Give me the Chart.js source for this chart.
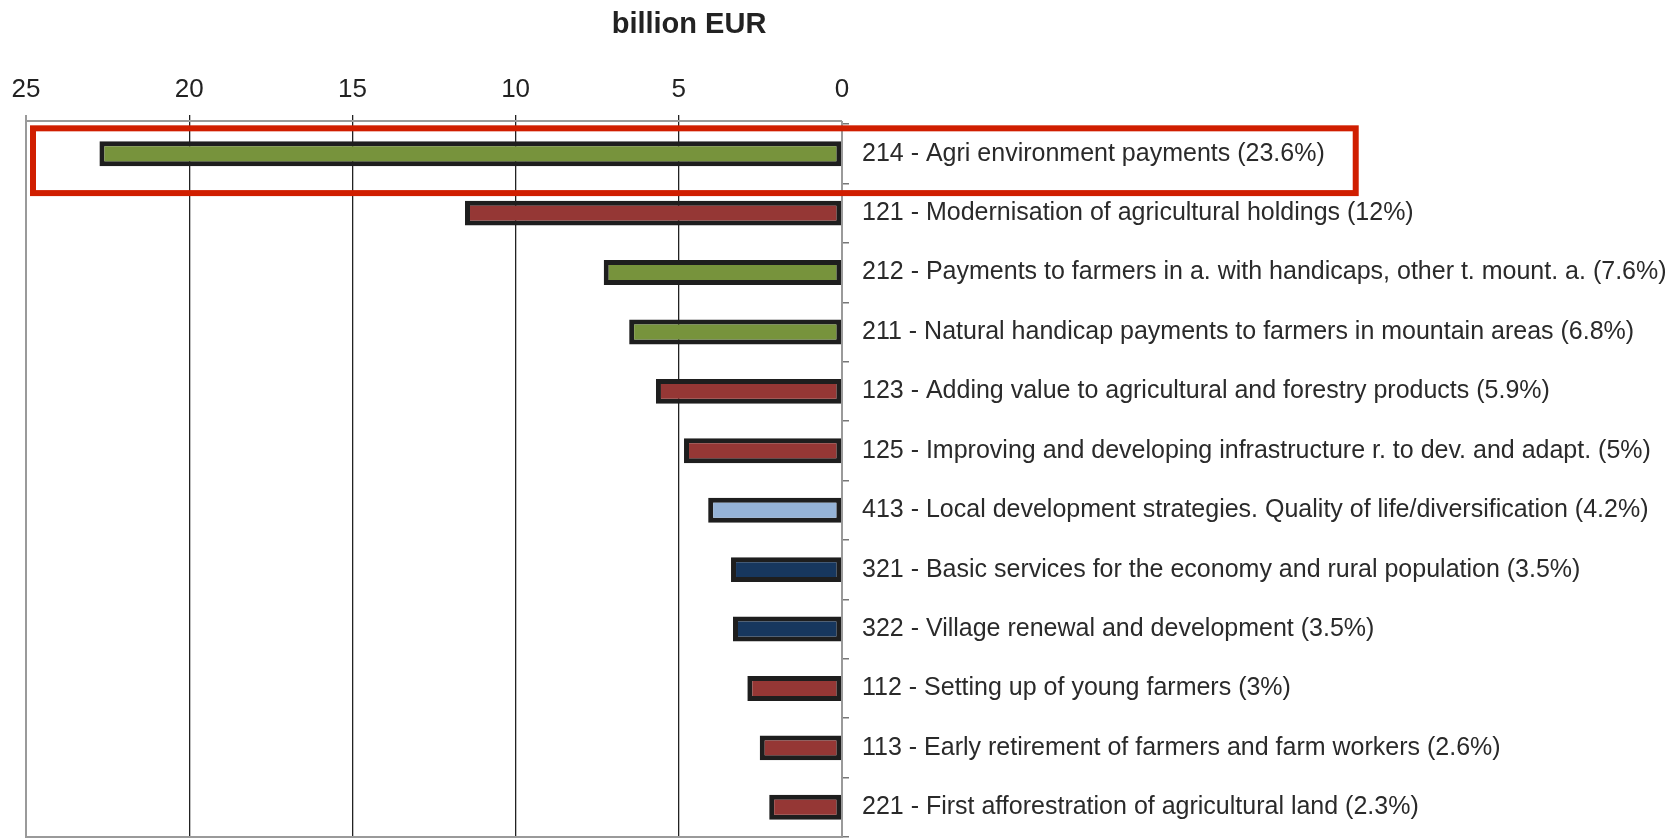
<!DOCTYPE html>
<html>
<head>
<meta charset="utf-8">
<script src="https://cdn.jsdelivr.net/npm/chart.js@4/dist/chart.umd.min.js"></script>
<style>
  html, body { margin: 0; padding: 0; background: #fff; }
  #wrap { width: 1674px; height: 838px; position: relative; }
</style>
</head>
<body>
<div id="wrap"><canvas id="chart" width="1674" height="838"></canvas></div>
<script>
const titleText = "billion EUR";
const codes = ["214", "121", "212", "211", "123", "125", "413", "321", "322", "112", "113", "221"];
const names = [
    "Agri environment payments",
    "Modernisation of agricultural holdings",
    "Payments to farmers in a. with handicaps, other t. mount. a.",
    "Natural handicap payments to farmers in mountain areas",
    "Adding value to agricultural and forestry products",
    "Improving and developing infrastructure r. to dev. and adapt.",
    "Local development strategies. Quality of life/diversification",
    "Basic services for the economy and rural population",
    "Village renewal and development",
    "Setting up of young farmers",
    "Early retirement of farmers and farm workers",
    "First afforestration of agricultural land"
];
const shares = ["23.6%", "12%", "7.6%", "6.8%", "5.9%", "5%", "4.2%", "3.5%", "3.5%", "3%", "2.6%", "2.3%"];
const values = [22.75, 11.55, 7.3, 6.52, 5.7, 4.84, 4.1, 3.4, 3.34, 2.9, 2.52, 2.23];
const groups = ["green", "red", "green", "green", "red", "red", "light", "navy", "navy", "red", "red", "red"];
const xTicks = [0, 5, 10, 15, 20, 25];

const palette = { green: "#77933c", red: "#953735", light: "#95b3d7", navy: "#17375e" };
const labels = codes.map((c, i) => c + " - " + names[i] + " (" + shares[i] + ")");
const fontFamily = "'Liberation Sans', Arial, sans-serif";

// frame, title and the red highlight box round the first row
const extras = {
    id: "extras",
    afterDraw(chart) {
        const ctx = chart.ctx;
        const area = chart.chartArea;
        const y = chart.scales.y;
        const top = area.top - 3;
        ctx.save();
        ctx.strokeStyle = "#9a9a9a";
        ctx.lineWidth = 2;
        ctx.beginPath();
        ctx.moveTo(area.right, top);
        ctx.lineTo(area.left, top);
        ctx.lineTo(area.left, area.bottom);
        ctx.lineTo(area.right, area.bottom);
        ctx.lineTo(area.right, top);
        ctx.stroke();

        ctx.fillStyle = "#222";
        ctx.font = "bold 29px " + fontFamily;
        ctx.textAlign = "center";
        ctx.textBaseline = "middle";
        ctx.fillText(titleText, 689, 25);

        ctx.font = y.options.ticks.font.size + "px " + fontFamily;
        const w = ctx.measureText(labels[0]).width;
        const band = y.getPixelForValue(1) - y.getPixelForValue(0);
        const cy = y.getPixelForValue(0) + 7;
        const left = area.left + 7;
        const right = area.right + 21 + w + 30;
        ctx.strokeStyle = "#d01e00";
        ctx.lineWidth = 6;
        ctx.strokeRect(left, cy - band * 0.545, right - left, band * 1.09);
        ctx.restore();
    }
};

new Chart(document.getElementById("chart"), {
    type: "bar",
    data: {
        labels: labels,
        datasets: [{
            data: values,
            backgroundColor: groups.map(g => palette[g]),
            borderColor: "#1e1e1e",
            borderWidth: 5,
            borderSkipped: false,
            barPercentage: 0.42,
            categoryPercentage: 1
        }]
    },
    options: {
        indexAxis: "y",
        responsive: false,
        animation: false,
        layout: { padding: { left: 26, right: 0, top: 0, bottom: 1 } },
        plugins: {
            legend: { display: false },
            tooltip: { enabled: false }
        },
        scales: {
            x: {
                position: "top",
                reverse: true,
                min: 0,
                max: 25,
                afterBuildTicks: scale => { scale.ticks = xTicks.map(v => ({ value: v })); },
                afterFit: scale => { scale.height = 124; },
                ticks: {
                    color: "#222",
                    padding: 10,
                    font: { family: fontFamily, size: 26 }
                },
                grid: {
                    color: c => c.tick && c.tick.value === 25 ? "#9a9a9a" : (c.tick && c.tick.value === 0 ? "rgba(0,0,0,0)" : "#222"),
                    lineWidth: c => c.tick && c.tick.value === 25 ? 2 : 1.3,
                    tickLength: 9
                },
                border: { display: false }
            },
            y: {
                position: "right",
                afterFit: scale => {
                    scale.width = 832;
                    scale.paddingTop = 0;
                    scale.paddingBottom = 0;
                },
                ticks: {
                    color: "#2a2a2a",
                    padding: 13,
                    font: { family: fontFamily, size: 25 }
                },
                grid: {
                    drawOnChartArea: false,
                    color: "#777",
                    lineWidth: 1.5,
                    tickLength: 7
                },
                border: { color: "#8a8a8a", width: 2 }
            }
        }
    },
    plugins: [extras]
});
</script>
</body>
</html>
